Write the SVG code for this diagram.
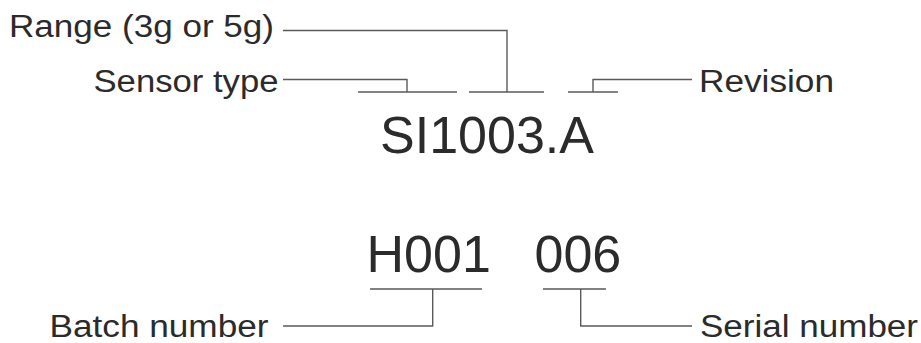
<svg xmlns="http://www.w3.org/2000/svg" width="921" height="343" viewBox="0 0 921 343">
<style>
.lbl{font-family:"Liberation Sans",Arial,sans-serif;font-size:31px;fill:#2b2b2b}
.big{font-family:"Liberation Sans",Arial,sans-serif;font-size:52px;fill:#2b2b2b}
.ln{fill:none;stroke:#5a5a5a;stroke-width:1.4}
</style>
<rect width="921" height="343" fill="#ffffff"/>
<g id="code1"><text class="big" x="380" y="153">SI1003.A</text></g>
<g id="code2a"><text class="big" x="366.5" y="272">H001</text></g>
<g id="code2b"><text class="big" x="534.5" y="272">006</text></g>
<g id="range"><text class="lbl" x="9" y="37" textLength="265" lengthAdjust="spacingAndGlyphs">Range (3g or 5g)</text></g>
<g id="sensor"><text class="lbl" x="93.5" y="92" textLength="185" lengthAdjust="spacingAndGlyphs">Sensor type</text></g>
<g id="revision"><text class="lbl" x="699" y="92" textLength="135" lengthAdjust="spacingAndGlyphs">Revision</text></g>
<g id="batch"><text class="lbl" x="49.5" y="337" textLength="219" lengthAdjust="spacingAndGlyphs">Batch number</text></g>
<g id="serial"><text class="lbl" x="700" y="337" textLength="218" lengthAdjust="spacingAndGlyphs">Serial number</text></g>
<g id="connectors">
<path class="ln" d="M283 30.5H507V92M469 92H544"/>
<path class="ln" d="M283 79.5H407V92M358 92H457"/>
<path class="ln" d="M568 92H618M593 92V79.5H692"/>
<path class="ln" d="M370 289H482M432.7 289V326H283"/>
<path class="ln" d="M543 289H606M580.7 289V326H692"/>
</g>
</svg>
